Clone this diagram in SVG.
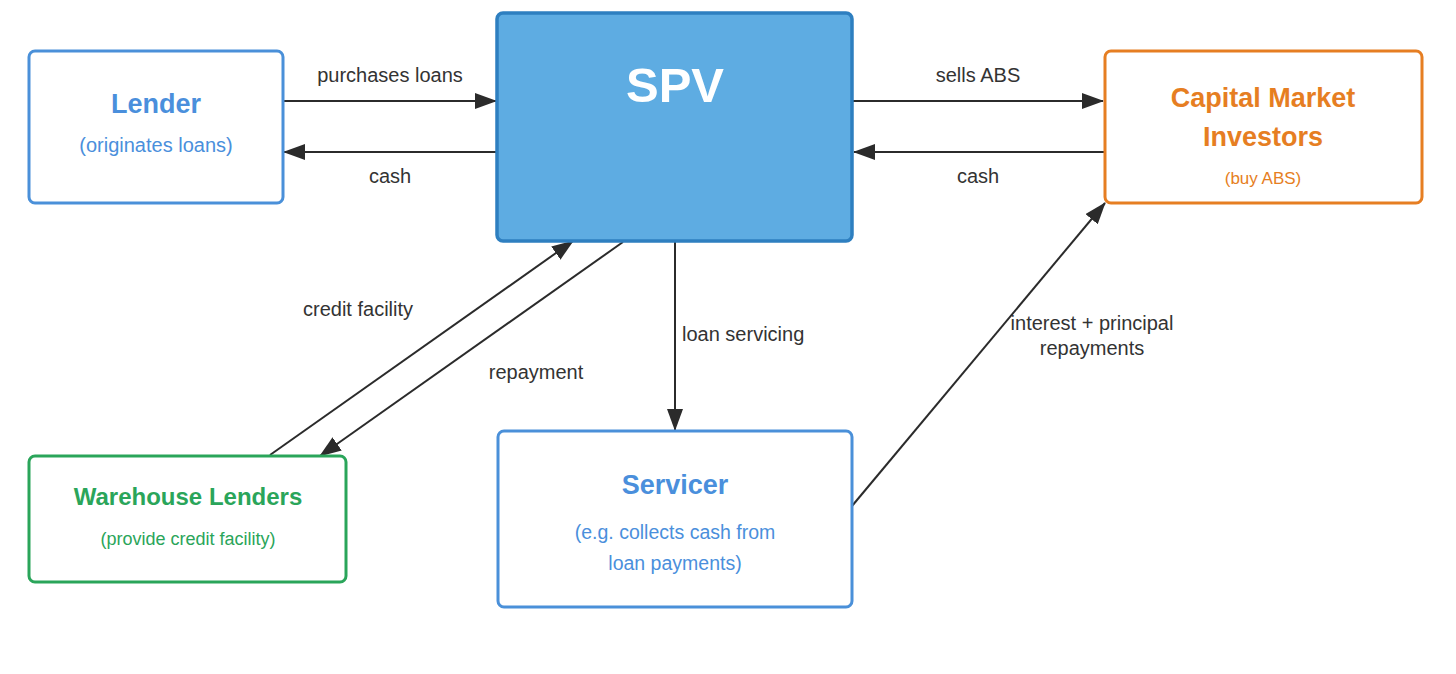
<svg xmlns="http://www.w3.org/2000/svg" width="1456" height="674" viewBox="0 0 1456 674">
<style>
.box{fill:#fff;stroke-width:3}
.blue{stroke:#4a90d9}
.orange{stroke:#e67e22}
.green{stroke:#2aa55a}
.t{font-family:"Liberation Sans",Arial,sans-serif;text-anchor:middle}
.title{font-weight:bold;font-size:27px}
.lbl{font-family:"Liberation Sans",Arial,sans-serif;font-size:20px;fill:#333}
.conn{stroke:#2b2b2b;stroke-width:2;fill:none;marker-end:url(#ah)}
</style>
<defs>
<marker id="ah" markerUnits="userSpaceOnUse" markerWidth="22" markerHeight="16" refX="21" refY="8" orient="auto">
<path d="M0,0 L22,8 L0,16 Z" fill="#2b2b2b"/>
</marker>
</defs>
<rect width="1456" height="674" fill="#fff"/>

<g id="connectors">
<line class="conn" x1="283" y1="101" x2="496" y2="101"/>
<line class="conn" x1="497" y1="152" x2="284" y2="152"/>
<line class="conn" x1="853" y1="101" x2="1103" y2="101"/>
<line class="conn" x1="1104" y1="152" x2="854" y2="152"/>
<line class="conn" x1="270" y1="455" x2="573" y2="241"/>
<line class="conn" x1="623" y1="242" x2="320" y2="456"/>
<line class="conn" x1="675" y1="242" x2="675" y2="430"/>
<line class="conn" x1="852" y1="506" x2="1105" y2="203"/>
<text class="lbl" x="390" y="82" text-anchor="middle">purchases loans</text>
<text class="lbl" x="390" y="183" text-anchor="middle">cash</text>
<text class="lbl" x="978" y="82" text-anchor="middle">sells ABS</text>
<text class="lbl" x="978" y="183" text-anchor="middle">cash</text>
<text class="lbl" x="358" y="316" text-anchor="middle">credit facility</text>
<text class="lbl" x="536" y="379" text-anchor="middle">repayment</text>
<text class="lbl" x="682" y="341">loan servicing</text>
<text class="lbl" x="1092" y="330" text-anchor="middle">interest + principal</text>
<text class="lbl" x="1092" y="355" text-anchor="middle">repayments</text>
</g>

<g id="lender">
<rect class="box blue" x="29" y="51" width="254" height="152" rx="6"/>
<text class="t title" x="156" y="113" fill="#4a8fdc">Lender</text>
<text class="t" x="156" y="152" font-size="20" fill="#4a8fdc">(originates loans)</text>
</g>

<g id="spv">
<rect x="497" y="13" width="355" height="228" rx="6" fill="#5eace2" stroke="#2e7fc0" stroke-width="3.5"/>
<text class="t" x="675" y="102" font-size="49" font-weight="bold" fill="#fff">SPV</text>
</g>

<g id="investors">
<rect class="box orange" x="1105" y="51" width="317" height="152" rx="6"/>
<text class="t title" x="1263" y="107" fill="#e67e22">Capital Market</text>
<text class="t title" x="1263" y="146" fill="#e67e22">Investors</text>
<text class="t" x="1263" y="184" font-size="17" fill="#e67e22">(buy ABS)</text>
</g>

<g id="warehouse">
<rect class="box green" x="29" y="456" width="317" height="126" rx="6"/>
<text class="t" x="188" y="505" font-size="24" font-weight="bold" fill="#2aa55a">Warehouse Lenders</text>
<text class="t" x="188" y="545" font-size="18" fill="#2aa55a">(provide credit facility)</text>
</g>

<g id="servicer">
<rect class="box blue" x="498" y="431" width="354" height="176" rx="6"/>
<text class="t title" x="675" y="494" fill="#4a8fdc">Servicer</text>
<text class="t" x="675" y="539" font-size="19.5" fill="#4a8fdc">(e.g. collects cash from</text>
<text class="t" x="675" y="570" font-size="19.5" fill="#4a8fdc">loan payments)</text>
</g>
</svg>
